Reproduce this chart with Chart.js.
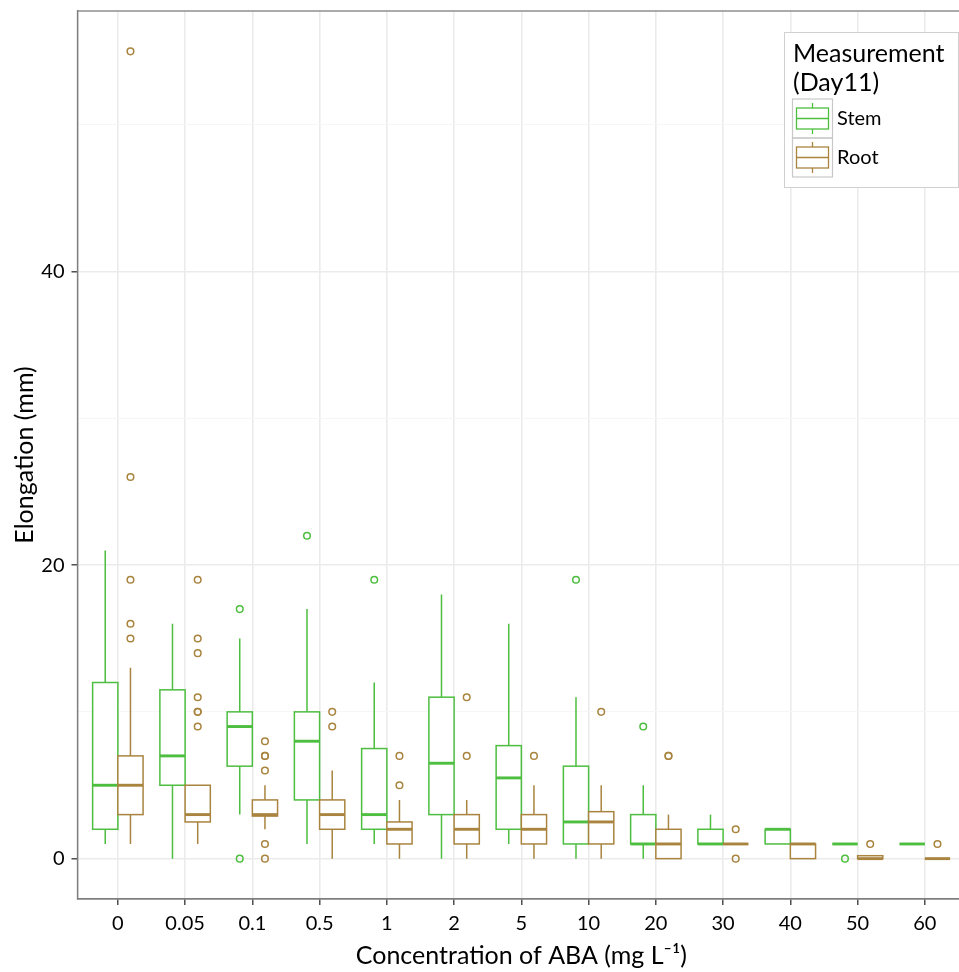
<!DOCTYPE html>
<html><head><meta charset="utf-8">
<script src="https://cdn.jsdelivr.net/npm/chart.js@4.4.1/dist/chart.umd.min.js"></script>
<style>html,body{margin:0;padding:0;overflow:hidden;background:#fff}canvas{display:block}</style>
</head><body>
<canvas id="c" width="970" height="972" style="width:970px;height:972px"></canvas>
<script>
// ---------- data ----------
const categories = ['0','0.05','0.1','0.5','1','2','5','10','20','30','40','50','60'];
const seriesNames = ['Stem','Root'];
const legendTitle = ['Measurement','(Day11)'];
const xTitle = 'Concentration of ABA (mg L\u207B\u00B9)';
const yTitle = 'Elongation (mm)';
const yTickValues = [0,10,20,30,40,50];
const yTickLabels = ['0','','20','','40',''];
// [lower whisker, Q1, median, Q3, upper whisker]
const stemStats = [
  [1, 2, 5, 12, 21],
  [0, 5, 7, 11.5, 16],
  [3, 6.3, 9, 10, 15],
  [1, 4, 8, 10, 17],
  [1, 2, 3, 7.5, 12],
  [0, 3, 6.5, 11, 18],
  [1, 2, 5.5, 7.7, 16],
  [0, 1, 2.5, 6.3, 11],
  [0, 1, 1, 3, 5],
  [1, 1, 1, 2, 3],
  [1, 1, 2, 2, 2],
  [1, 1, 1, 1, 1],
  [1, 1, 1, 1, 1]
];
const rootStats = [
  [1, 3, 5, 7, 13],
  [1, 2.5, 3, 5, 5],
  [2, 2.9, 3, 4, 5],
  [0, 2, 3, 4, 6],
  [0, 1, 2, 2.5, 4],
  [0, 1, 2, 3, 4],
  [0, 1, 2, 3, 5],
  [0, 1, 2.5, 3.2, 5],
  [0, 0, 1, 2, 3],
  [1, 1, 1, 1, 1],
  [0, 0, 1, 1, 1],
  [0, 0, 0, 0.2, 0.2],
  [0, 0, 0, 0, 0]
];
const stemOutliers = [[], [], [17, 0], [22], [19], [], [], [19], [9], [], [], [0], []];
const rootOutliers = [[55, 26, 19, 16, 15], [19, 15, 14, 11, 10, 10, 9], [8, 7, 7, 6, 1, 0], [10, 9], [7, 5], [11, 7], [7], [10], [7, 7], [2, 0], [], [1], [1]];

// ---------- styling ----------
const seriesColors = ['#4DBE3F', '#A9843F'];
const FONT = 'Lato, "Open Sans", sans-serif';
const DODGE = 0.1875;   // half of the dodged width (0.75 / 2 / 2)
const HALF = 0.1875;    // half width of each box

const statsBySeries = [stemStats, rootStats];
const outliersBySeries = [stemOutliers, rootOutliers];
const offsets = [-DODGE, DODGE];

function outlierPoints(list, off) {
  const pts = [];
  list.forEach((arr, i) => arr.forEach(v => pts.push({x: i + off, y: v})));
  return pts;
}

const boxPlugin = {
  id: 'boxes',
  beforeDatasetsDraw(chart) {
    const ctx = chart.ctx, xs = chart.scales.x, ys = chart.scales.y;
    ctx.save();
    statsBySeries.forEach((stats, si) => {
      const color = seriesColors[si];
      stats.forEach((s, i) => {
        const c = i + offsets[si];
        const xl = xs.getPixelForValue(c - HALF), xr = xs.getPixelForValue(c + HALF), xc = xs.getPixelForValue(c);
        const [lo, q1, med, q3, hi] = s.map(v => ys.getPixelForValue(v));
        ctx.strokeStyle = color;
        ctx.lineWidth = 1.5;
        ctx.beginPath();
        ctx.moveTo(xc, hi); ctx.lineTo(xc, q3);
        ctx.moveTo(xc, q1); ctx.lineTo(xc, lo);
        ctx.stroke();
        ctx.fillStyle = '#ffffff';
        ctx.fillRect(xl, q3, xr - xl, q1 - q3);
        ctx.strokeRect(xl, q3, xr - xl, q1 - q3);
        ctx.lineWidth = 2.9;
        ctx.beginPath(); ctx.moveTo(xl, med); ctx.lineTo(xr, med); ctx.stroke();
      });
    });
    ctx.restore();
  },
  afterDraw(chart) {
    const ctx = chart.ctx, a = chart.chartArea;
    ctx.save();
    // panel border (top / right)
    ctx.strokeStyle = '#7F7F7F'; ctx.lineWidth = 1.3;
    ctx.strokeRect(a.left, a.top, a.right - a.left, a.bottom - a.top);
    // legend
    const lx = 784.5, ly = 32.5, lw = 174, lh = 155;
    ctx.fillStyle = '#fff'; ctx.fillRect(lx, ly, lw, lh);
    ctx.strokeStyle = '#D0D0D0'; ctx.lineWidth = 1; ctx.strokeRect(lx, ly, lw, lh);
    ctx.fillStyle = '#000'; ctx.textBaseline = 'alphabetic'; ctx.textAlign = 'left';
    ctx.font = '25px ' + FONT;
    ctx.fillText(legendTitle[0], 793, 62);
    ctx.fillText(legendTitle[1], 793, 91);
    seriesNames.forEach((name, k) => {
      const ky = 99 + k * 39;
      ctx.strokeStyle = '#C8C8C8'; ctx.lineWidth = 1.2;
      ctx.strokeRect(792.5, ky, 40, 39);
      const col = seriesColors[k];
      ctx.strokeStyle = col; ctx.lineWidth = 1.3;
      ctx.beginPath();
      ctx.moveTo(812.5, ky + 4); ctx.lineTo(812.5, ky + 9);
      ctx.moveTo(812.5, ky + 30); ctx.lineTo(812.5, ky + 35);
      ctx.stroke();
      ctx.strokeRect(796.5, ky + 9, 32, 21);
      ctx.beginPath(); ctx.moveTo(796.5, ky + 19.5); ctx.lineTo(828.5, ky + 19.5); ctx.stroke();
      ctx.fillStyle = '#000'; ctx.font = '20px ' + FONT; ctx.textBaseline = 'middle';
      ctx.fillText(name, 837, ky + 20);
    });
    ctx.restore();
  }
};

const chart = new Chart(document.getElementById('c'), {
  type: 'scatter',
  data: {
    datasets: seriesNames.map((name, si) => ({
      label: name,
      data: outlierPoints(outliersBySeries[si], offsets[si]),
      borderColor: seriesColors[si],
      backgroundColor: 'rgba(255,255,255,0)',
      pointRadius: 3.3,
      pointBorderWidth: 1.5,
      pointHoverRadius: 3.3,
      pointStyle: 'circle'
    }))
  },
  options: {
    responsive: false,
    animation: false,
    events: [],
    layout: {padding: {top: 11, right: 1, left: 0, bottom: 0}},
    plugins: {legend: {display: false}, tooltip: {enabled: false}},
    scales: {
      x: {
        type: 'linear', min: -0.6, max: 12.6,
        afterBuildTicks: s => { s.ticks = categories.map((_, i) => ({value: i})); },
        afterFit: s => { s.height = 73; s.paddingLeft = 0; s.paddingRight = 0; },
        ticks: {
          autoSkip: false, maxRotation: 0, padding: 7,
          color: '#000', font: {family: FONT, size: 20},
          callback: (v) => categories[Math.round(v)]
        },
        grid: {color: '#EBEBEB', lineWidth: 1.6, tickColor: '#333333', tickLength: 6, tickWidth: 1.3},
        border: {display: true, color: '#7F7F7F', width: 1.3},
        title: {display: true, text: xTitle, color: '#000', font: {family: FONT, size: 25}, padding: {top: 0, bottom: 1}}
      },
      y: {
        type: 'linear', min: -2.75, max: 57.75,
        afterBuildTicks: s => { s.ticks = yTickValues.map(v => ({value: v})); },
        afterFit: s => { s.width = 77.5; s.paddingTop = 0; s.paddingBottom = 0; },
        ticks: {
          padding: 7, color: '#000', font: {family: FONT, size: 20},
          callback: (v, i) => yTickLabels[i]
        },
        grid: {
          color: c => (yTickLabels[c.index] ? '#EBEBEB' : '#F6F6F6'),
          lineWidth: c => (yTickLabels[c.index] ? 1.6 : 1),
          tickColor: c => (yTickLabels[c.index] ? '#333333' : 'rgba(0,0,0,0)'),
          tickLength: 6, tickWidth: 1.3
        },
        border: {display: true, color: '#7F7F7F', width: 1.3},
        title: {display: true, text: yTitle, color: '#000', font: {family: FONT, size: 25}, padding: {top: 10, bottom: 0}}
      }
    }
  },
  plugins: [boxPlugin]
});
</script>
</body></html>
